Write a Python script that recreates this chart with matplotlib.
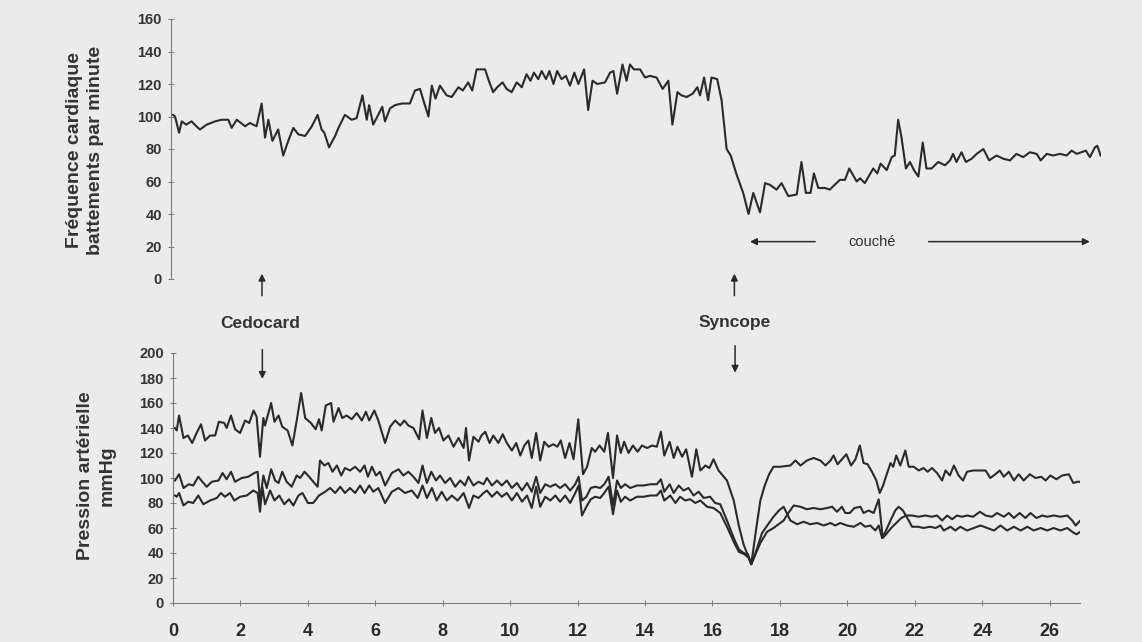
import matplotlib
matplotlib.use("Agg")
import matplotlib.pyplot as plt

plt.rcParams['font.family'] = ['Liberation Sans', 'DejaVu Sans']

# --- heart rate (top panel), minutes vs beats/min
hr_t = [0.06, 0.12, 0.24, 0.32, 0.45, 0.61, 0.75, 0.86, 1.06, 1.31, 1.50, 1.70, 1.80, 1.95, 2.20, 2.34,
        2.54, 2.69, 2.79, 2.89, 3.01, 3.18, 3.33, 3.48, 3.63, 3.78, 3.98, 4.18, 4.35, 4.47, 4.55, 4.69,
        4.87, 4.97, 5.16, 5.36, 5.51, 5.68, 5.81, 5.88, 6.00, 6.15, 6.27, 6.35, 6.50, 6.65, 6.85, 7.09,
        7.24, 7.39, 7.49, 7.64, 7.74, 7.85, 7.98, 8.18, 8.33, 8.53, 8.66, 8.82, 8.94, 9.07, 9.32, 9.45,
        9.56, 9.68, 9.84, 9.96, 10.11, 10.26, 10.41, 10.55, 10.67, 10.77, 10.90, 11.00, 11.13, 11.23,
        11.35, 11.46, 11.59, 11.72, 11.84, 11.97, 12.09, 12.26, 12.38, 12.51, 12.65, 12.88, 13.03, 13.13,
        13.24, 13.40, 13.52, 13.62, 13.74, 13.92, 14.07, 14.21, 14.41, 14.59, 14.76, 14.88, 15.03, 15.15,
        15.30, 15.48, 15.62, 15.70, 15.82, 15.94, 16.04, 16.21, 16.34, 16.49, 16.61, 16.79, 16.98, 17.14,
        17.28, 17.38, 17.48, 17.63, 17.77, 17.97, 18.12, 18.32, 18.57, 18.71, 18.84, 18.98, 19.08, 19.21,
        19.41, 19.55, 19.85, 20.00, 20.13, 20.35, 20.45, 20.59, 20.84, 20.96, 21.06, 21.24, 21.39, 21.48,
        21.58, 21.68, 21.81, 21.93, 22.05, 22.18, 22.31, 22.42, 22.57, 22.77, 22.97, 23.12, 23.21, 23.31,
        23.46, 23.59, 23.76, 23.91, 24.11, 24.28, 24.50, 24.70, 24.90, 25.09, 25.29, 25.49, 25.69, 25.81,
        25.99, 26.18, 26.38, 26.58, 26.73, 26.88, 27.02, 27.15, 27.27, 27.42, 27.49, 27.59]
hr_bpm = [101, 100, 90, 97, 95, 97, 94, 92, 95, 97, 98, 98, 93, 98, 94, 96,
          94, 108, 87, 98, 85, 92, 76, 85, 93, 89, 88, 94, 101, 92, 90, 81,
          88, 93, 101, 98, 99, 113, 98, 107, 95, 101, 106, 97, 105, 107, 108, 108,
          116, 117, 110, 100, 119, 111, 119, 113, 112, 118, 116, 121, 116, 129, 129, 121,
          115, 118, 121, 117, 115, 121, 118, 126, 122, 127, 123, 128, 123, 128,
          120, 128, 123, 125, 119, 127, 120, 129, 104, 122, 120, 121, 127, 128,
          114, 132, 122, 132, 129, 129, 124, 125, 124, 117, 122, 95, 115, 113,
          112, 114, 118, 113, 124, 110, 124, 123, 110, 80, 76, 64, 53, 40,
          53, 47, 41, 59, 58, 55, 59, 51, 52, 72, 53, 53, 65, 56,
          56, 55, 61, 61, 68, 60, 62, 59, 68, 65, 71, 67, 75, 76,
          98, 87, 68, 72, 67, 63, 84, 68, 68, 72, 70, 73, 77, 72,
          78, 72, 74, 77, 80, 73, 76, 74, 73, 77, 75, 78, 77, 73,
          77, 76, 77, 76, 79, 77, 78, 79, 75, 81, 82, 76]

# --- arterial pressure (bottom panel), systolic / mean / diastolic in mmHg
sys_t = [0.06, 0.11, 0.18, 0.31, 0.44, 0.57, 0.70, 0.83, 0.95, 1.10, 1.25, 1.36, 1.52, 1.59, 1.72, 1.84,
         1.99, 2.14, 2.26, 2.39, 2.48, 2.58, 2.68, 2.73, 2.91, 3.01, 3.13, 3.24, 3.40, 3.54, 3.67, 3.80,
         3.92, 4.09, 4.23, 4.33, 4.41, 4.53, 4.69, 4.76, 4.91, 5.02, 5.15, 5.30, 5.45, 5.60, 5.72, 5.82,
         5.97, 6.09, 6.29, 6.44, 6.59, 6.74, 6.86, 6.98, 7.13, 7.30, 7.40, 7.53, 7.66, 7.77, 7.89, 8.02,
         8.17, 8.32, 8.47, 8.62, 8.69, 8.78, 8.91, 9.06, 9.15, 9.26, 9.39, 9.50, 9.65, 9.78, 9.90, 10.05,
         10.18, 10.30, 10.42, 10.54, 10.64, 10.77, 10.89, 11.01, 11.14, 11.28, 11.40, 11.50, 11.63, 11.76,
         11.88, 12.02, 12.16, 12.28, 12.42, 12.52, 12.65, 12.79, 12.90, 13.05, 13.17, 13.28, 13.38, 13.51,
         13.64, 13.78, 13.91, 14.06, 14.21, 14.35, 14.47, 14.57, 14.73, 14.85, 14.96, 15.10, 15.22, 15.39,
         15.52, 15.64, 15.79, 15.91, 16.03, 16.18, 16.43, 16.63, 16.78, 16.92, 17.05, 17.15, 17.30, 17.42,
         17.55, 17.68, 17.81, 18.01, 18.31, 18.46, 18.61, 18.80, 19.00, 19.20, 19.35, 19.50, 19.59, 19.71,
         19.84, 19.97, 20.11, 20.24, 20.37, 20.48, 20.60, 20.73, 20.86, 20.96, 21.06, 21.18, 21.28, 21.36,
         21.45, 21.57, 21.72, 21.82, 21.97, 22.12, 22.26, 22.38, 22.51, 22.66, 22.81, 22.91, 23.04, 23.16,
         23.30, 23.43, 23.55, 23.73, 23.90, 24.10, 24.24, 24.39, 24.52, 24.64, 24.79, 24.94, 25.08, 25.23,
         25.41, 25.58, 25.75, 25.88, 26.02, 26.20, 26.37, 26.57, 26.70, 26.82, 26.91]
sys_mmhg = [140, 138, 150, 132, 134, 128, 136, 143, 130, 134, 134, 145, 144, 140, 150, 139,
            136, 146, 144, 154, 149, 117, 148, 142, 160, 145, 150, 141, 138, 126, 146, 168,
            148, 144, 139, 147, 138, 158, 160, 145, 156, 148, 150, 147, 152, 146, 153, 146,
            154, 146, 128, 141, 146, 142, 146, 142, 140, 131, 154, 132, 148, 136, 140, 130,
            134, 125, 132, 124, 140, 114, 133, 129, 134, 137, 128, 134, 128, 135, 128, 122,
            128, 118, 126, 130, 116, 136, 114, 129, 125, 127, 125, 130, 116, 128,
            115, 147, 103, 109, 124, 121, 126, 121, 136, 100, 134, 120, 129, 120,
            126, 121, 126, 124, 126, 125, 137, 118, 129, 116, 125, 117, 123, 101,
            123, 106, 110, 108, 115, 106, 98, 82, 62, 47, 38, 31, 60, 82,
            94, 103, 109, 109, 110, 114, 110, 114, 116, 114, 110, 114, 118, 111,
            115, 119, 110, 115, 126, 112, 111, 105, 98, 88, 94, 104, 112, 109,
            118, 110, 122, 109, 109, 106, 108, 105, 108, 104, 98, 106, 102, 110,
            102, 98, 105, 106, 106, 106, 100, 103, 106, 101, 105, 98, 103, 98,
            103, 100, 101, 98, 102, 99, 102, 103, 96, 97, 97]

mean_t = [0.06, 0.11, 0.18, 0.31, 0.47, 0.60, 0.75, 0.87, 1.00, 1.15, 1.35, 1.47, 1.59, 1.72, 1.84, 2.04,
          2.23, 2.41, 2.51, 2.58, 2.68, 2.78, 2.91, 3.03, 3.13, 3.24, 3.37, 3.52, 3.67, 3.77, 3.90, 4.04,
          4.16, 4.29, 4.36, 4.49, 4.61, 4.73, 4.86, 4.99, 5.10, 5.25, 5.40, 5.55, 5.68, 5.78, 5.90, 6.02,
          6.14, 6.29, 6.49, 6.69, 6.83, 6.98, 7.13, 7.28, 7.40, 7.53, 7.66, 7.80, 7.92, 8.07, 8.22, 8.37,
          8.52, 8.66, 8.76, 8.91, 9.06, 9.21, 9.31, 9.46, 9.61, 9.75, 9.90, 10.05, 10.20, 10.35, 10.50,
          10.64, 10.77, 10.89, 11.04, 11.19, 11.34, 11.48, 11.63, 11.78, 11.93, 12.03, 12.13, 12.26, 12.39,
          12.52, 12.67, 12.79, 12.92, 13.05, 13.17, 13.28, 13.41, 13.56, 13.76, 13.96, 14.15, 14.35, 14.47,
          14.57, 14.73, 14.85, 15.00, 15.14, 15.29, 15.44, 15.59, 15.74, 15.93, 16.08, 16.23, 16.43, 16.63,
          16.78, 16.92, 17.05, 17.15, 17.42, 17.62, 17.81, 18.01, 18.11, 18.25, 18.41, 18.61, 18.80, 19.00,
          19.20, 19.40, 19.55, 19.69, 19.84, 19.94, 20.07, 20.21, 20.39, 20.48, 20.63, 20.78, 20.93, 21.05,
          21.15, 21.30, 21.45, 21.60, 21.75, 21.92, 22.12, 22.31, 22.51, 22.66, 22.81, 22.96, 23.11, 23.25,
          23.40, 23.55, 23.73, 23.93, 24.10, 24.29, 24.44, 24.64, 24.79, 24.94, 25.11, 25.28, 25.43, 25.61,
          25.78, 25.93, 26.12, 26.32, 26.52, 26.67, 26.77, 26.91]
mean_mmhg = [98, 100, 103, 92, 95, 94, 101, 97, 93, 97, 98, 104, 99, 105, 97, 100,
             101, 104, 105, 82, 102, 92, 107, 98, 96, 105, 97, 93, 102, 100, 105, 101,
             97, 93, 114, 110, 112, 105, 110, 102, 108, 106, 109, 105, 110, 101, 109, 102,
             105, 94, 104, 107, 102, 105, 101, 96, 110, 96, 105, 98, 102, 96, 100, 93,
             98, 94, 101, 94, 97, 95, 100, 94, 98, 94, 98, 92, 96, 90, 96,
             89, 101, 88, 95, 93, 95, 92, 95, 90, 95, 101, 82, 85, 92,
             93, 92, 95, 101, 78, 98, 92, 95, 92, 94, 94, 95, 95, 99,
             89, 95, 88, 94, 90, 92, 86, 89, 84, 85, 80, 79, 66, 52,
             43, 40, 39, 31, 48, 57, 60, 64, 66, 72, 78, 77, 75, 76,
             75, 76, 77, 73, 77, 72, 72, 76, 77, 72, 74, 72, 83, 52,
             55, 60, 64, 68, 70, 70, 69, 70, 69, 70, 66, 70, 67, 70,
             69, 70, 69, 73, 70, 69, 72, 69, 72, 68, 72, 68, 72, 68,
             70, 69, 70, 69, 70, 66, 62, 66]

dia_t = [0.06, 0.11, 0.18, 0.31, 0.45, 0.60, 0.75, 0.90, 1.10, 1.30, 1.42, 1.54, 1.69, 1.82, 1.99, 2.19,
         2.38, 2.51, 2.58, 2.65, 2.73, 2.88, 3.01, 3.15, 3.30, 3.44, 3.57, 3.72, 3.84, 4.00, 4.16, 4.33,
         4.51, 4.66, 4.81, 4.96, 5.10, 5.25, 5.40, 5.55, 5.68, 5.82, 5.94, 6.09, 6.29, 6.49, 6.69, 6.88,
         7.08, 7.26, 7.40, 7.53, 7.68, 7.82, 7.97, 8.12, 8.27, 8.44, 8.62, 8.78, 8.91, 9.06, 9.21, 9.31,
         9.46, 9.61, 9.75, 9.90, 10.05, 10.20, 10.35, 10.50, 10.64, 10.77, 10.89, 11.04, 11.19, 11.34,
         11.48, 11.63, 11.78, 11.93, 12.03, 12.13, 12.26, 12.39, 12.52, 12.67, 12.79, 12.92, 13.05, 13.17,
         13.28, 13.41, 13.56, 13.76, 13.96, 14.15, 14.35, 14.47, 14.57, 14.75, 14.90, 15.04, 15.19, 15.34,
         15.49, 15.64, 15.84, 16.03, 16.23, 16.43, 16.63, 16.78, 16.95, 17.08, 17.15, 17.30, 17.47, 17.65,
         17.81, 17.97, 18.11, 18.20, 18.31, 18.51, 18.70, 18.90, 19.10, 19.30, 19.50, 19.64, 19.79, 19.99,
         20.19, 20.39, 20.53, 20.68, 20.83, 20.93, 21.03, 21.13, 21.28, 21.42, 21.52, 21.65, 21.82, 21.92,
         22.10, 22.26, 22.45, 22.62, 22.76, 22.86, 23.06, 23.20, 23.35, 23.55, 23.75, 23.95, 24.15, 24.35,
         24.54, 24.74, 24.94, 25.14, 25.34, 25.53, 25.73, 25.93, 26.12, 26.32, 26.52, 26.72, 26.80, 26.91]
dia_mmhg = [86, 85, 88, 78, 81, 80, 86, 79, 82, 84, 88, 85, 88, 82, 85, 86,
            90, 88, 73, 93, 79, 90, 82, 86, 79, 83, 78, 86, 88, 80, 80, 86,
            89, 92, 88, 93, 88, 92, 88, 94, 88, 94, 89, 92, 80, 89, 92, 88,
            90, 84, 94, 84, 92, 82, 89, 82, 86, 82, 88, 76, 86, 84, 88, 90,
            85, 89, 85, 88, 82, 88, 81, 86, 76, 93, 77, 85, 82, 86,
            81, 86, 80, 88, 94, 70, 77, 83, 85, 84, 88, 93, 71, 90,
            81, 85, 82, 85, 85, 86, 86, 90, 82, 86, 80, 85, 82, 83,
            80, 82, 77, 76, 72, 61, 49, 41, 39, 36, 31, 42, 56, 63,
            69, 74, 77, 72, 66, 63, 65, 63, 64, 62, 64, 62, 64, 62,
            61, 64, 61, 62, 58, 62, 52, 57, 66, 74, 77, 74, 66, 61,
            61, 60, 61, 60, 62, 58, 61, 58, 61, 58, 60, 62, 60, 58,
            62, 58, 61, 58, 61, 58, 60, 58, 60, 58, 60, 56, 55, 57]

hr_yticks = list(range(0, 161, 20))
bp_yticks = list(range(0, 201, 20))
bp_xticks = list(range(0, 27, 2))

# event markers (minutes)
t_cedocard = 2.7
t_syncope = 16.72
couche_start, couche_end = 17.1, 27.35

bg = '#ebebeb'
ink = '#2a2a2a'
txt = '#333333'
spine = '#7a7a7a'

W, H = 1142, 642
fig = plt.figure(figsize=(W / 100, H / 100), dpi=100, facecolor=bg)

# top panel: x axis 0..27.6 min spans px 171..1101, y 0..160 spans px 279..19
ax1 = fig.add_axes([171 / W, (H - 279) / H, 930 / W, 260 / H], facecolor='none')
# bottom panel: x axis 0..26.9 spans px 173..1080, y 0..200 spans px 603..353
ax2 = fig.add_axes([173 / W, (H - 603) / H, 907 / W, 250 / H], facecolor='none')

ax1.plot(hr_t, hr_bpm, color=ink, lw=1.5)
ax2.plot(sys_t, sys_mmhg, color=ink, lw=1.5)
ax2.plot(mean_t, mean_mmhg, color=ink, lw=1.5)
ax2.plot(dia_t, dia_mmhg, color=ink, lw=1.5)

ax1.set_xlim(0, 27.6)
ax1.set_ylim(0, 160)
ax1.set_yticks(hr_yticks)
ax1.set_xticks([])
ax2.set_xlim(0, 26.9)
ax2.set_ylim(0, 200)
ax2.set_yticks(bp_yticks)
ax2.set_xticks(bp_xticks)

for ax in (ax1, ax2):
    for s in ('top', 'right'):
        ax.spines[s].set_visible(False)
    ax.spines['left'].set_color(spine)
    ax.spines['left'].set_linewidth(0.8)
    ax.tick_params(axis='y', direction='inout', length=5, width=0.7, color=spine,
                   labelsize=10.5, labelcolor=txt, pad=4)
    for lab in ax.get_yticklabels():
        lab.set_fontweight('bold')
ax1.spines['bottom'].set_visible(False)
ax2.spines['bottom'].set_color(spine)
ax2.spines['bottom'].set_linewidth(0.8)
ax2.tick_params(axis='x', direction='inout', length=5, width=0.7, color=spine,
                labelsize=13, labelcolor=ink, pad=12)
for lab in ax2.get_xticklabels():
    lab.set_fontweight('bold')

# y axis titles
fig.text(85 / W, 1 - 150 / H, 'Fréquence cardiaque\nbattements par minute', rotation=90,
         ha='center', va='center', multialignment='center', fontsize=14,
         fontweight='bold', color=txt, linespacing=1.3)
fig.text(96 / W, 1 - 476 / H, 'Pression artérielle\nmmHg', rotation=90,
         ha='center', va='center', multialignment='center', fontsize=14,
         fontweight='bold', color=txt, linespacing=1.35)

arrow = dict(arrowstyle='-|>', color=ink, lw=1.1, mutation_scale=10)

# event arrows: up into the heart rate panel, down into the pressure panel
for t in (t_cedocard, t_syncope):
    ax1.annotate('', xy=(t, 5), xytext=(t, -12), xycoords='data',
                 arrowprops=arrow, annotation_clip=False)
ax2.annotate('', xy=(t_cedocard - 0.05, 177), xytext=(t_cedocard - 0.05, 205),
             arrowprops=arrow, annotation_clip=False)
ax2.annotate('', xy=(t_syncope - 0.05, 182), xytext=(t_syncope - 0.05, 208),
             arrowprops=arrow, annotation_clip=False)
ax2.text(t_cedocard - 0.1, 224, 'Cedocard', ha='center', va='center', fontsize=12.5,
         fontweight='bold', color=txt, clip_on=False)
ax2.text(t_syncope - 0.05, 224, 'Syncope', ha='center', va='center', fontsize=12.5,
         fontweight='bold', color=txt, clip_on=False)

# "couché" span
ax1.text(20.8, 23, 'couché', ha='center', va='center', fontsize=10.5, color=txt)
ax1.annotate('', xy=(couche_start, 23), xytext=(19.2, 23), arrowprops=arrow)
ax1.annotate('', xy=(couche_end, 23), xytext=(22.4, 23), arrowprops=arrow,
             annotation_clip=False)

fig.savefig('out.png', dpi=100, facecolor=bg)
